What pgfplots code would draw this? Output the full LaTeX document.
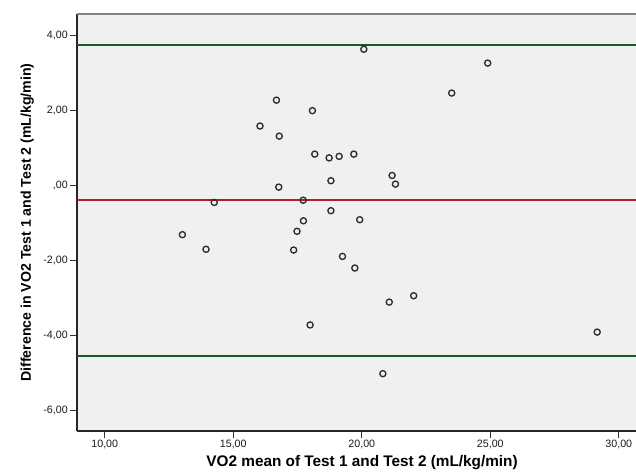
\documentclass[border=0pt]{standalone}
\usepackage{fontspec}
\setmainfont{Liberation Sans}
\usepackage{pgfplots}
\pgfplotsset{compat=1.18}
\definecolor{bggray}{RGB}{240,240,240}
\definecolor{loagreen}{RGB}{28,88,44}
\definecolor{meanred}{RGB}{178,30,36}
\definecolor{ptgray}{RGB}{45,45,45}

\begin{document}
\begin{tikzpicture}
  \begin{axis}[
      scale only axis,
      width=419.25pt, height=312.75pt,
      xmin=8.92, xmax=30.67,
      ymin=-6.56, ymax=4.57,
      axis background/.style={fill=bggray},
      axis x line*=bottom, axis y line*=left,
      axis line style={-, line width=0.8pt, black!85},
      tick align=outside, major tick length=5.25pt,
      tick style={line width=0.6pt, black!80},
      xtick={10,15,20,25,30},
      xticklabels={{10,00},{15,00},{20,00},{25,00},{30,00}},
      ytick={-6,-4,-2,0,2,4},
      yticklabels={{-6,00},{-4,00},{-2,00},{,00},{2,00},{4,00}},
      ticklabel style={font=\fontsize{8}{9}\selectfont, text=black!90, inner sep=1.5pt},
      xlabel={\textbf{VO2 mean of Test 1 and Test 2 (mL/kg/min)}},
      xlabel style={at={(axis description cs:0.51,0)}, anchor=base, yshift=-27pt,
        font=\fontsize{11.5}{13}\selectfont},
      ylabel={\textbf{Difference in VO2 Test 1 and Test 2 (mL/kg/min)}},
      ylabel style={at={(axis description cs:-0.0823,0.5)}, anchor=base,
        font=\fontsize{10.6}{12}\selectfont},
      clip=false,
    ]
    % top border
    \draw[gray, line width=0.8pt] (rel axis cs:0,1) -- (rel axis cs:1,1);

    % limits of agreement and mean difference
    \addplot[loagreen, line width=1.6pt] coordinates {(8.92,3.75) (30.67,3.75)};
    \addplot[meanred, line width=1.6pt] coordinates {(8.92,-0.40) (30.67,-0.40)};
    \addplot[loagreen, line width=1.6pt] coordinates {(8.92,-4.56) (30.67,-4.56)};

    \addplot[only marks, mark=o, mark size=2.3pt,
      mark options={draw=ptgray, line width=1pt}] table {
      x      y
      16.68  2.27
      18.08  1.99
      16.04  1.58
      16.79  1.31
      18.17  0.83
      16.77 -0.05
      14.26 -0.46
      17.72 -0.40
      17.73 -0.95
      17.48 -1.23
      13.02 -1.32
      20.08  3.63
      24.90  3.26
      23.50  2.46
      18.73  0.73
      19.12  0.77
      19.69  0.83
      18.80  0.12
      21.18  0.26
      21.31  0.03
      18.80 -0.68
      19.92 -0.92
      13.94 -1.71
      17.35 -1.73
      17.99 -3.73
      19.25 -1.90
      19.73 -2.21
      21.07 -3.12
      22.02 -2.95
      29.16 -3.92
      20.82 -5.03
    };
  \end{axis}
  \pgfresetboundingbox
  \path[use as bounding box] (-57.75pt,-32.25pt) rectangle (419.25pt,323.25pt);
\end{tikzpicture}
\end{document}
